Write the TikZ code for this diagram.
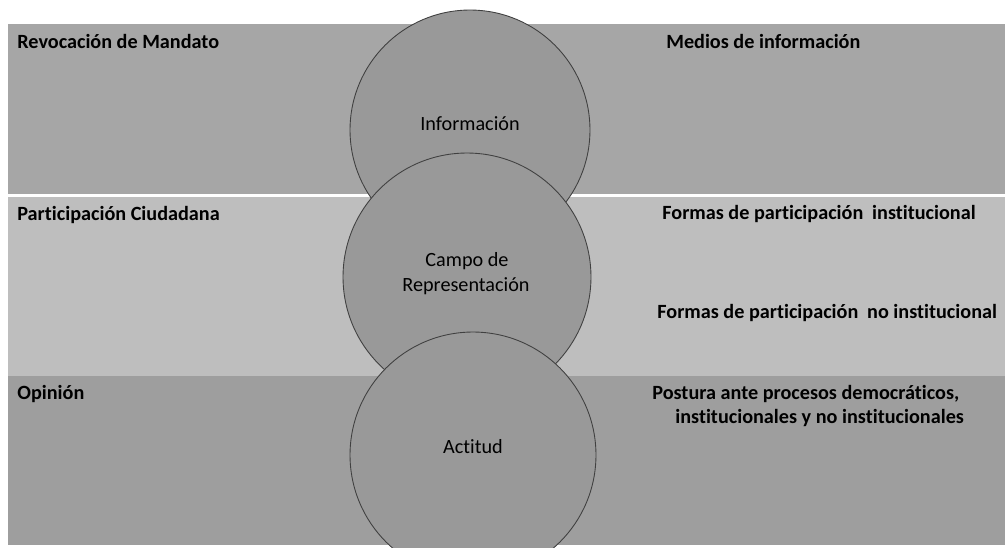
\documentclass[tikz,border=0pt]{standalone}
\usepackage{fontspec}
\setmainfont[Ligatures=NoCommon]{Carlito}
\definecolor{bandtop}{gray}{0.65}
\definecolor{bandmid}{gray}{0.745}
\definecolor{bandlow}{gray}{0.62}
\definecolor{discgray}{gray}{0.6}
\tikzset{band/.style={fill=#1,draw=none},
disc/.style={circle,draw=black!75,fill=discgray,line width=0.5pt,minimum size=#1,inner sep=0pt},
lbl/.style={anchor=base west,inner sep=0pt,font=\bfseries\fontsize{11.5}{13.5}\selectfont},
ctxt/.style={anchor=base,inner sep=0pt,font=\fontsize{11.5}{13.5}\selectfont}}

\begin{document}
\begin{tikzpicture}[x=0.02cm,y=-0.02cm]
\useasboundingbox[fill=white] (0,0) rectangle (1005,548);
\fill[band=bandtop] (8,24) rectangle (1005,195);
\fill[band=bandmid] (8,196) rectangle (1005,376);
\fill[band=bandlow] (8,376) rectangle (1005,545);
\draw[white,line width=1.2pt] (8,195.5)--(1005,195.5);

\node[disc=4.8cm] (info) at (470,130) {};
\node[disc=4.96cm] (campo) at (467,277) {};
\node[disc=4.92cm] (actitud) at (473,455) {};

\node[ctxt] (tinfo) at (470,130) {Información};
\node[ctxt] (tcampo) at (467,266) {Campo de};
\node[ctxt] (trep) at (466,291) {Representación};
\node[ctxt] (tact) at (473,453) {Actitud};

\node[lbl] (revoc) at (17,48) {Revocación de Mandato};
\node[lbl] (medios) at (666,48) {Medios de información};
\node[lbl] (partic) at (17,220) {Participación Ciudadana};
\node[lbl] (formas) at (662,219) {Formas de participación\hspace{5pt}institucional};
\node[lbl] (formasno) at (657,318) {Formas de participación\hspace{5pt}no institucional};
\node[lbl] (opin) at (17,399) {Opinión};
\node[lbl] (postura) at (652,399) {Postura ante procesos democráticos,};
\node[lbl] (postura2) at (675,423) {institucionales y no institucionales};
\end{tikzpicture}
\end{document}
